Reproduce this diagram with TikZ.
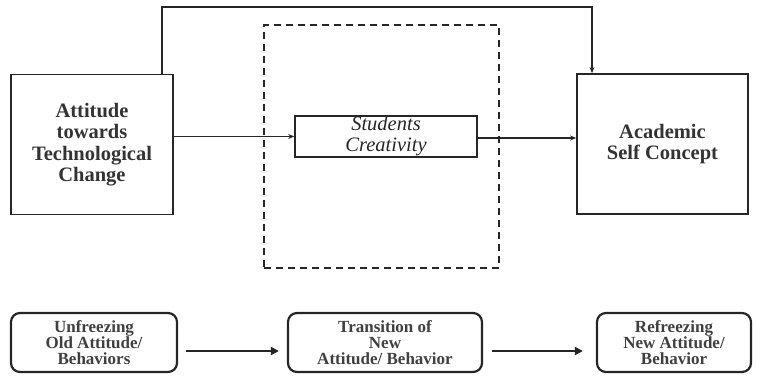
\documentclass[tikz,border=0pt]{standalone}
\usepackage{fontspec}
\setmainfont{Liberation Serif}
\usetikzlibrary{arrows.meta}
\begin{document}
\begin{tikzpicture}[x=1pt,y=-1pt,
  bigbox/.style={draw=black!85, line width=1.8pt, align=center, inner sep=0pt,
    font=\fontsize{20.5}{21.5}\selectfont\bfseries, text=black!80},
  midbox/.style={draw=black!85, line width=1.6pt, align=center, inner sep=0pt,
    font=\fontsize{20.5}{21}\selectfont\itshape, text=black!85},
  dashbox/.style={draw=black!85, line width=1.6pt, dash pattern=on 7pt off 5pt},
  stagebox/.style={draw=black!85, line width=2.2pt, rounded corners=9pt, align=center, inner sep=0pt,
    font=\fontsize{17}{16}\selectfont\bfseries, text=black!75},
  conn/.style={draw=black!85, line width=1.5pt, -{Stealth[length=6pt,width=5pt]}},
  flow/.style={draw=black!85, line width=2.2pt, -{Triangle[length=8pt,width=8pt]}}
]
\useasboundingbox (0,0) rectangle (757,377);
% dashed mediator frame
\node[dashbox, minimum width=235pt, minimum height=243pt] (D) at (381.5,146.5) {};
% main boxes
\node[bigbox, minimum width=162pt, minimum height=140pt] (L) at (92,144.5)
  {Attitude\\towards\\Technological\\Change};
\node[bigbox, minimum width=171pt, minimum height=140pt] (R) at (662.5,144)
  {Academic\\Self Concept};
\node[midbox, minimum width=182pt, minimum height=41pt] (S) at (386,136.5)
  {Students\\Creativity};
% connectors
\coordinate (t1) at (162,7);
\coordinate (t2) at (592,7);
\coordinate (s2) at ([yshift=-1.5pt]S.east);
\draw[conn] (L.north -| t1) -- (t1) -- (t2) -- (R.north -| t2);
\draw[conn] (L.east |- S.west) -- (S.west);
\draw[conn] (s2) -- (R.west |- s2);
% bottom stages
\node[stagebox, minimum width=166pt, minimum height=59pt] (B1) at (94,342.5)
  {Unfreezing\\Old Attitude/\\Behaviors};
\node[stagebox, minimum width=194pt, minimum height=59pt] (B2) at (385,342.5)
  {Transition of\\New\\Attitude/ Behavior};
\node[stagebox, minimum width=154pt, minimum height=59pt] (B3) at (674,342.5)
  {Refreezing\\New Attitude/\\Behavior};
\draw[flow, shorten <=8pt, shorten >=8pt] ([yshift=-8.5pt]B1.east) -- ([yshift=-8.5pt]B2.west);
\draw[flow, shorten <=9pt, shorten >=13pt] ([yshift=-8.5pt]B2.east) -- ([yshift=-8.5pt]B3.west);
\end{tikzpicture}
\end{document}
